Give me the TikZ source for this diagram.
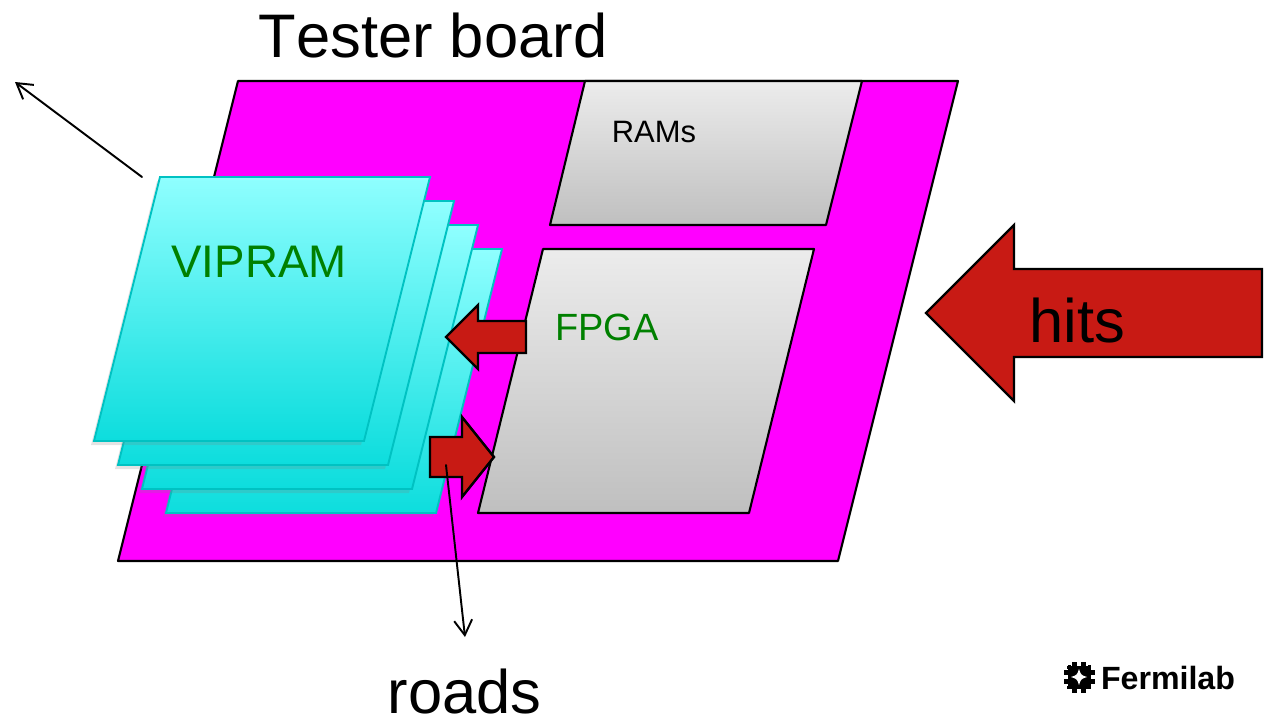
\documentclass[tikz,border=0pt]{standalone}
\usepackage{fontspec}
\setmainfont{Liberation Sans}
\usepackage[dvipsnames,svgnames]{xcolor}
\usepackage{tkz-euclide}
\usetikzlibrary{shadows}
\definecolor{boardmag}{HTML}{FF00FF}
\definecolor{arrowred}{HTML}{C81A14}
\definecolor{sheetedge}{HTML}{00C2C2}
\definecolor{sheettop}{HTML}{8FFFFF}
\definecolor{sheetbot}{HTML}{0DDDDD}
\definecolor{labelgreen}{HTML}{008000}
\tikzset{
  sheet/.style={draw=sheetedge,line width=1.1pt,top color=sheettop,bottom color=sheetbot,
    drop shadow={shadow xshift=-.6mm,shadow yshift=-.8mm,opacity=.22}},
  chip/.style={draw=black,line width=1.2pt,top color=gray!15,bottom color=gray!50},
  bigarrow/.style={draw=black,line width=1.4pt,fill=arrowred,line join=miter},
  thinarrow/.style={black,line width=1.1pt,-{Straight Barb[length=3mm,width=3.6mm]}},
}
\begin{document}
\begin{tikzpicture}[x=.02cm,y=-.02cm]
    \useasboundingbox (0,0) rectangle (1269,717);
    \tkzDefPoints{238/81/A,958/81/B,838/561/C,118/561/D}
    \tkzDefPoints{585/81/Ra,862/81/Rb,826/225/Rc,550/225/Rd}
    \tkzDefPoints{543/249/Fa,814/249/Fb,749/513/Fc,478/513/Fd}
    \tkzDrawPolygon[draw=black,line width=1.2pt,fill=boardmag](A,B,C,D)
    \tkzDrawPolygon[chip](Ra,Rb,Rc,Rd)
    \tkzDrawPolygon[chip](Fa,Fb,Fc,Fd)
    % sheets, back one first
    \foreach \s in {72,48,24,0}{
      \path[sheet] (160+\s,177+\s) -- (430+\s,177+\s) -- (364+\s,441+\s) -- (94+\s,441+\s) -- cycle;
    }
    \path[bigarrow] (926,313) -- (1014,225) -- (1014,269) -- (1262,269) -- (1262,357) -- (1014,357) -- (1014,401) -- cycle;
    \path[bigarrow] (446,337) -- (478,305) -- (478,321) -- (526,321) -- (526,353) -- (478,353) -- (478,369) -- cycle;
    \path[bigarrow] (494,457) -- (462,417) -- (462,437) -- (430,437) -- (430,477) -- (462,477) -- (462,497) -- cycle;
    \tkzDefPoints{142/177/Va,15/82/Vb,446/465/Wa,465/637/Wb}
    \tkzDrawSegment[thinarrow](Va,Vb)
    \tkzDrawSegment[thinarrow](Wa,Wb)
    \node (tester) at (433,36) {\fontsize{35}{35}\selectfont\addfontfeature{Kerning=Off}Tester board};
    \node (rams) at (654,132) {\fontsize{17.6}{18}\selectfont RAMs};
    \node[text=labelgreen] (vipram) at (259,262) {\fontsize{26}{26}\selectfont VIPRAM};
    \node[text=labelgreen] (fpga) at (607,327) {\fontsize{21.6}{22}\selectfont FPGA};
    \node (hits) at (1077,321) {\fontsize{35}{35}\selectfont hits};
    \node[inner ysep=0pt] (roads) at (464.5,692) {\fontsize{35}{35}\selectfont roads};
    \node (fermi) at (1168,678) {\fontsize{18.3}{18}\selectfont\bfseries Fermilab};
    % logo mark
    \fill[black] (1070,668) rectangle (1088,686);
    \foreach \a in {0,90,180,270}{
      \begin{scope}[shift={(1079,677)},rotate=\a]
        \fill[black] (-7,-15.5) rectangle (-2,-9);
        \fill[black] (2,-15.5) rectangle (7,-9);
        \fill[black] (-12,-11.5) rectangle (12,-8.5);
      \end{scope}
    }
    \fill[white] (1079,669) .. controls (1081,675) .. (1087,677) .. controls (1081,679) .. (1079,685)
      .. controls (1077,679) .. (1071,677) .. controls (1077,675) .. cycle;
  \end{tikzpicture}
\end{document}
